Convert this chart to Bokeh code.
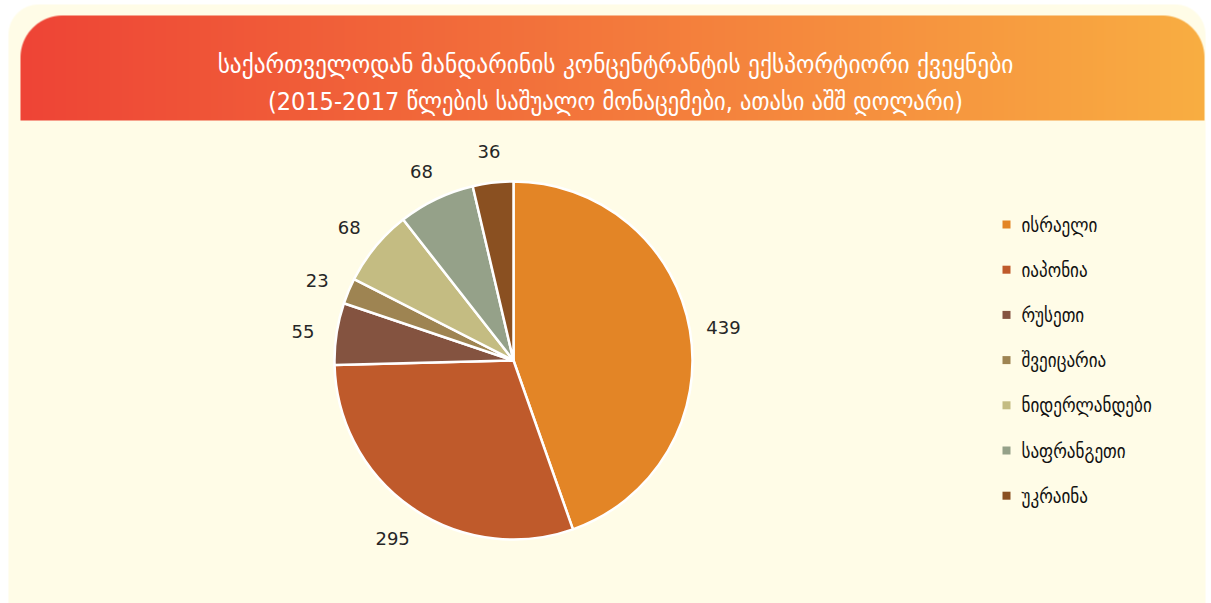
import numpy as np
from bokeh.plotting import figure
from bokeh.models import Range1d
from bokeh.core.properties import value
from bokeh.embed import file_html
from bokeh.resources import INLINE

# ---------------- data ----------------
countries = ["ისრაელი", "იაპონია", "რუსეთი", "შვეიცარია", "ნიდერლანდები", "საფრანგეთი", "უკრაინა"]
values = [439, 295, 55, 23, 68, 68, 36]
colors = ["#E38526", "#BF5A2B", "#845340", "#9E8452", "#C4BC82", "#95A189", "#8A5021"]
title_line1 = "საქართველოდან მანდარინის კონცენტრანტის ექსპორტიორი ქვეყნები"
title_line2 = "(2015-2017 წლების საშუალო მონაცემები, ათასი აშშ დოლარი)"

W, H = 1211, 603
p = figure(width=W, height=H, output_backend="svg", toolbar_location=None,
           x_range=Range1d(0, W), y_range=Range1d(0, H),
           x_axis_type=None, y_axis_type=None, min_border=0,
           background_fill_color="white", border_fill_color="white")
p.outline_line_color = None
p.grid.visible = False

def Y(img_y):
    return H - img_y

def rounded_rgba(w, h, r_tl, r_tr, color_fn):
    cols = np.arange(w)[None, :] + 0.5
    rows = np.arange(h)[:, None] + 0.5
    alpha = np.ones((h, w))
    for r, left in ((r_tl, True), (r_tr, False)):
        cx = r if left else w - r
        cy = r
        d = np.sqrt((cols - cx) ** 2 + (rows - cy) ** 2)
        inside_corner = ((cols < cx) if left else (cols > cx)) & (rows < cy)
        a = np.clip(r - d + 0.5, 0, 1)
        alpha = np.where(inside_corner, a, alpha)
    rgb = color_fn(cols, rows, w, h)
    img = np.zeros((h, w), dtype=np.uint32)
    view = img.view(dtype=np.uint8).reshape((h, w, 4))
    view[:, :, 0] = rgb[0]
    view[:, :, 1] = rgb[1]
    view[:, :, 2] = rgb[2]
    view[:, :, 3] = (alpha * 255).astype(np.uint8)
    return img[::-1]

# cream panel
def cream(cols, rows, w, h):
    z = np.zeros((h, w))
    return (z + 255, z + 252, z + 231)
cw, ch = 1197, 599
bg = rounded_rgba(cw, ch, 30, 30, cream)
p.image_rgba(image=[bg], x=8, y=Y(603), dw=cw, dh=ch)

# gradient header
def grad(cols, rows, w, h):
    t = np.broadcast_to(cols / w, (h, w))
    c0 = np.array([238, 68, 54])
    c1 = np.array([249, 174, 66])
    return tuple(c0[k] + (c1[k] - c0[k]) * t for k in range(3))
hw, hh = 1184, 105
hdr = rounded_rgba(hw, hh, 42, 42, grad)
p.image_rgba(image=[hdr], x=20, y=Y(120), dw=hw, dh=hh)

p.text(x=[615], y=[Y(63)], text=[title_line1],
       text_align="center", text_baseline="middle", text_color="white",
       text_font=value("DejaVu Sans Condensed"), text_font_size="26px")
p.text(x=[615], y=[Y(101)], text=[title_line2],
       text_align="center", text_baseline="middle", text_color="white",
       text_font=value("DejaVu Sans Condensed"), text_font_size="25px")

# pie
vals = np.array(values, dtype=float)
total = vals.sum()
cum = np.concatenate([[0], np.cumsum(vals)])
start = np.pi / 2 - 2 * np.pi * cum[:-1] / total
end = np.pi / 2 - 2 * np.pi * cum[1:] / total
cx, cy, R = 513, Y(360), 179
p.wedge(x=cx, y=cy, radius=R, start_angle=start, end_angle=end, direction="clock",
        fill_color=colors, line_color="white", line_width=2.5)

mid = (start + end) / 2
lr = R + 34
p.text(x=cx + lr * np.cos(mid), y=cy + lr * np.sin(mid) - 3, text=[str(v) for v in values],
       text_align="center", text_baseline="middle", text_color="#262626",
       text_font=value("DejaVu Sans"), text_font_size="18px")

# legend
idx = np.arange(len(countries))
ly = Y(224) - 45.2 * idx
p.scatter(x=[1006] * len(countries), y=ly, marker="square", size=8,
          fill_color=colors, line_color=None)
p.text(x=[1021] * len(countries), y=ly, text=countries, text_align="left",
       text_baseline="middle", text_color="#111111",
       text_font=value("DejaVu Sans Condensed"), text_font_size="19px")

open("out.html", "w").write(file_html(p, INLINE))
